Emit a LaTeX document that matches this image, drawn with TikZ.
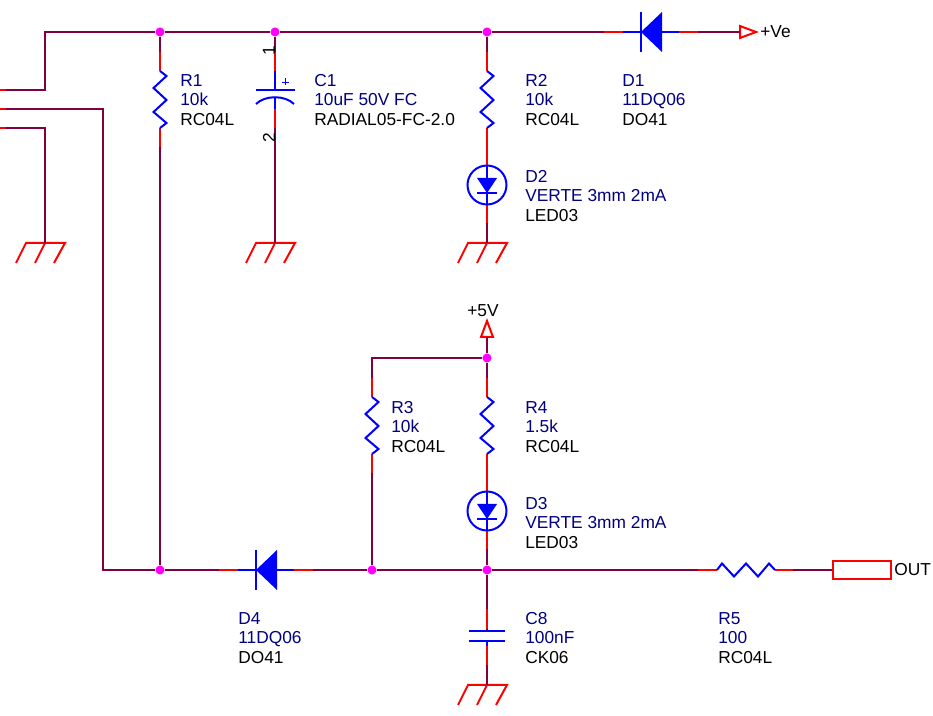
\documentclass[tikz,border=0pt]{standalone}
\usepackage{fontspec}
\setmainfont{Liberation Sans}

\definecolor{wirecol}{RGB}{128,0,64}
\definecolor{partblue}{RGB}{0,0,128}
\definecolor{dotcol}{RGB}{255,0,255}

\newcommand{\partlbl}[3]{\textcolor{partblue}{#1}\\\textcolor{partblue}{#2}\\#3}

\tikzset{
  wire/.style={line width=1.5pt,draw=wirecol},
  pinred/.style={line width=1.5pt,draw=red},
  body/.style={line width=1.5pt,draw=blue,line join=miter},
  junction/.style={circle,fill=dotcol,inner sep=0pt,minimum size=6.8pt},
  partlabel/.style={anchor=north west,inner sep=0pt,align=left,font=\fontsize{13}{14.6}\selectfont},
  plainlabel/.style={inner sep=0pt,font=\fontsize{13}{14.6}\selectfont},
  outbox/.style={draw=red,line width=1.5pt,inner sep=0pt,minimum width=43.5pt,minimum height=14.2pt},
  resv/.pic={
    \coordinate (-top) at (0,0);
    \coordinate (-bot) at (0,95);
    \draw[pinred] (-top) -- (0,19);
    \draw[pinred] (0,76) -- (-bot);
    \draw[body] (0,19) -- (6.5,24) -- (-6.5,36) -- (6.5,48) -- (-6.5,60) -- (6.5,71) -- (0,76);
  },
  resh/.pic={
    \coordinate (-left) at (0,0);
    \coordinate (-right) at (95,0);
    \draw[pinred] (-left) -- (19,0);
    \draw[pinred] (77,0) -- (-right);
    \draw[body] (19,0) -- (24,-6.5) -- (36,6.5) -- (48,-6.5) -- (60,6.5) -- (71,-6.5) -- (77,0);
  },
  diodeh/.pic={
    \coordinate (-left) at (-37,0);
    \coordinate (-right) at (57,0);
    \draw[pinred] (-left) -- (-18,0);
    \draw[pinred] (38,0) -- (-right);
    \draw[body] (-18,0) -- (38,0);
    \draw[body] (0,-20) -- (0,20);
    \fill[blue] (0,0) -- (21,-20) -- (21,20) -- cycle;
  },
  led/.pic={
    \coordinate (-top) at (0,-38);
    \coordinate (-bot) at (0,38);
    \draw[pinred] (-top) -- (0,-19);
    \draw[pinred] (0,19) -- (-bot);
    \draw[body] (0,0) circle (19.5);
    \draw[body] (0,-19) -- (0,19);
    \draw[body] (-10,8) -- (10,8);
    \fill[blue] (-10,-7) -- (10,-7) -- (0,8) -- cycle;
  },
  cappol/.pic={
    \coordinate (-top) at (0,0);
    \coordinate (-bot) at (0,76);
    \draw[pinred] (-top) -- (0,19);
    \draw[pinred] (0,57) -- (-bot);
    \draw[body] (0,19) -- (0,38);
    \draw[body] (-19.5,38) -- (20,38);
    \draw[body] (0,45) -- (0,57);
    \draw[body] (-19,52) .. controls (-10,43) and (10,43) .. (19,52);
    \draw[draw=blue,line width=0.6pt] (7,30) -- (14,30) (10.5,26.5) -- (10.5,33.5);
  },
  capnp/.pic={
    \coordinate (-top) at (0,0);
    \coordinate (-bot) at (0,56);
    \draw[pinred] (-top) -- (0,20);
    \draw[pinred] (0,37) -- (-bot);
    \draw[body] (0,20) -- (0,22) (0,32) -- (0,37);
    \draw[body] (-18,22) -- (18,22);
    \draw[body] (-18,32) -- (18,32);
  },
  gnd/.pic={
    \coordinate (-top) at (0,0);
    \draw[pinred] (-29,20) -- (-19,0) -- (20,0) -- (9,20);
    \draw[pinred] (0,0) -- (-10,20);
  },
  powerr/.pic={
    \coordinate (-tip) at (0,0);
    \draw[pinred,fill=white] (-tip) -- (0,-6) -- (16,0) -- (0,6) -- cycle;
  },
  poweru/.pic={
    \coordinate (-tip) at (0,0);
    \draw[pinred,fill=white] (-6,0) -- (0,-16) -- (6,0) -- cycle;
  }
}

\begin{document}
\begin{tikzpicture}[x=0.75pt,y=-0.75pt]
  \useasboundingbox (0,0) rectangle (933,716);

% corners and free ends
  \coordinate (inA)   at (0,90);
  \coordinate (inAw)  at (6,90);
  \coordinate (inAc)  at (45,90);
  \coordinate (topc)  at (45,32);
  \coordinate (inB)   at (0,109);
  \coordinate (inBw)  at (6,109);
  \coordinate (inBc)  at (103,109);
  \coordinate (botc)  at (103,570);
  \coordinate (inC)   at (0,128);
  \coordinate (inCw)  at (6,128);
  \coordinate (inCc)  at (45,128);
  \coordinate (r3c)   at (372,358);

% junctions
  \node[junction] (jr1)  at (160,32) {};
  \node[junction] (jc1)  at (275,32) {};
  \node[junction] (jr2)  at (487,32) {};
  \node[junction] (jr4)  at (487,358) {};
  \node[junction] (jd4)  at (160,570) {};
  \node[junction] (jr3)  at (372,570) {};
  \node[junction] (jout) at (487,570) {};

% parts
  \pic (r1) at (160,52) {resv};
  \pic (r2) at (487,52) {resv};
  \pic (r3) at (372,378) {resv};
  \pic (r4) at (487,378) {resv};
  \pic (r5) at (698,570) {resh};
  \pic (c1) at (275,52) {cappol};
  \pic (c8) at (487,609) {capnp};
  \pic (d1) at (641,32) {diodeh};
  \pic (d4) at (256,570) {diodeh};
  \pic (d2) at (487,185) {led};
  \pic (d3) at (487,511) {led};
  \pic (gA) at (45,243) {gnd};
  \pic (gB) at (275,243) {gnd};
  \pic (gC) at (487,243) {gnd};
  \pic (gD) at (487,685) {gnd};
  \pic (ve) at (740,32) {powerr};
  \pic (vcc) at (487,337) {poweru};
  \node[outbox] (outport) at (861.5,570) {};

% wires
  \draw[pinred] (inA) -- (inAw);
  \draw[pinred] (inB) -- (inBw);
  \draw[pinred] (inC) -- (inCw);
  \draw[wire] (inAw) -- (inAc) -- (topc) -- (jr1) -- (jc1) -- (jr2) -- (d1-left);
  \draw[wire] (d1-right) -- (ve-tip);
  \draw[wire] (inBw) -- (inBc) -- (botc) -- (jd4) -- (d4-left);
  \draw[wire] (inCw) -- (inCc) -- (gA-top);
  \draw[wire] (jr1) -- (r1-top);
  \draw[wire] (r1-bot) -- (jd4);
  \draw[wire] (jc1) -- (c1-top);
  \draw[wire] (c1-bot) -- (gB-top);
  \draw[wire] (jr2) -- (r2-top);
  \draw[wire] (d2-bot) -- (gC-top);
  \draw[wire] (vcc-tip) -- (jr4);
  \draw[wire] (jr4) -- (r4-top);
  \draw[wire] (jr4) -- (r3c) -- (r3-top);
  \draw[wire] (r3-bot) -- (jr3);
  \draw[wire] (d3-bot) -- (jout);
  \draw[wire] (d4-right) -- (jr3) -- (jout) -- (r5-left);
  \draw[wire] (r5-right) -- (outport);
  \draw[wire] (jout) -- (c8-top);
  \draw[wire] (c8-bot) -- (gD-top);

% part labels
  \node[partlabel] (lr1) at (180,74)  {\partlbl{R1}{10k}{RC04L}};
  \node[partlabel] (lc1) at (314,74)  {\partlbl{C1}{10uF 50V FC}{RADIAL05-FC-2.0}};
  \node[partlabel] (lr2) at (525,74)  {\partlbl{R2}{10k}{RC04L}};
  \node[partlabel] (ld1) at (622,74)  {\partlbl{D1}{11DQ06}{DO41}};
  \node[partlabel] (ld2) at (525,170) {\partlbl{D2}{VERTE 3mm 2mA}{LED03}};
  \node[partlabel] (lr3) at (391,401) {\partlbl{R3}{10k}{RC04L}};
  \node[partlabel] (lr4) at (525,401) {\partlbl{R4}{1.5k}{RC04L}};
  \node[partlabel] (ld3) at (525,497) {\partlbl{D3}{VERTE 3mm 2mA}{LED03}};
  \node[partlabel] (ld4) at (238,612) {\partlbl{D4}{11DQ06}{DO41}};
  \node[partlabel] (lc8) at (525,612) {\partlbl{C8}{100nF}{CK06}};
  \node[partlabel] (lr5) at (718,612) {\partlbl{R5}{100}{RC04L}};

% pin numbers and net names
  \node[plainlabel,rotate=90] (pin1) at (269,51)  {1};
  \node[plainlabel,rotate=90] (pin2) at (269,138) {2};
  \node[plainlabel,anchor=west] (lve) at (760,32) {+Ve};
  \node[plainlabel] (lvcc) at (483,311) {+5V};
  \node[plainlabel,anchor=west] (lout) at (894,570) {OUT};

\end{tikzpicture}
\end{document}
